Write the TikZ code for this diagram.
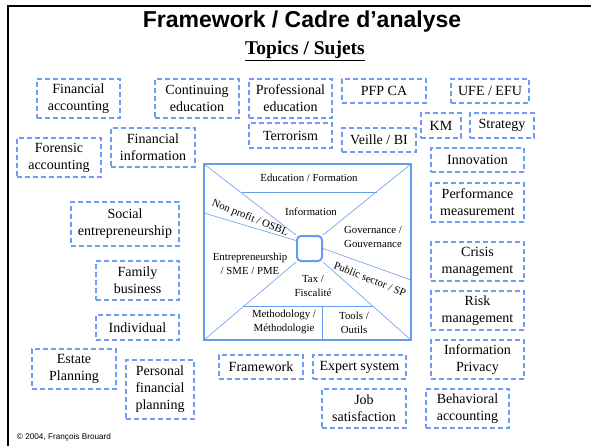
\documentclass[tikz,border=0pt]{standalone}
\usepackage{fontspec}
\setmainfont{Liberation Serif}
\setsansfont{Liberation Sans}
\definecolor{topicblue}{RGB}{110,155,245}
\definecolor{hubblue}{RGB}{105,155,235}
\tikzset{
  topic/.style={draw=topicblue, line width=1.2pt, dash pattern=on 5pt off 3pt, align=center,
    inner sep=0pt, font=\fontsize{14}{17}\selectfont},
  sector/.style={align=center, inner sep=0pt, font=\fontsize{10.8}{14}\selectfont},
  spoke/.style={hubblue, line width=0.6pt}
}
\begin{document}
\begin{tikzpicture}[x=1pt,y=-1pt]
\useasboundingbox (0,0) rectangle (591,445);
\draw [black, line width=2.5pt] (8,446) -- (8,6) -- (592,6);
\node (title) at (302,22) {\sffamily\bfseries\fontsize{23}{26}\selectfont Framework / Cadre d’analyse};
\node (subtitle) at (305,51) {\bfseries\fontsize{19.5}{22}\selectfont\underline{Topics / Sujets}};
% topics
\node [topic, minimum width=83pt, minimum height=39pt] (finacc) at (78.5,98.5) {Financial\\accounting};
\node [topic, minimum width=84pt, minimum height=39pt] (contedu) at (197,98.5) {Continuing\\education};
\node [topic, minimum width=83pt, minimum height=39pt] (profedu) at (290.5,98.5) {Professional\\education};
\node [topic, minimum width=84pt, minimum height=24pt] (pfpca) at (384,91) {PFP CA};
\node [topic, minimum width=78pt, minimum height=24pt] (ufe) at (490,91) {UFE / EFU};
\node [topic, minimum width=83pt, minimum height=25pt] (terror) at (290.5,135.5) {Terrorism};
\node [topic, minimum width=74pt, minimum height=24pt] (veille) at (379,140) {Veille / BI};
\node [topic, minimum width=40pt, minimum height=25pt] (km) at (441,125.5) {KM};
\node [topic, minimum width=64pt, minimum height=25pt] (strategy) at (502,125.5) {Strategy};
\node [topic, minimum width=84pt, minimum height=39pt] (fininfo) at (153,147.5) {Financial\\information};
\node [topic, minimum width=84pt, minimum height=39pt] (forensic) at (59,157.5) {Forensic\\accounting};
\node [topic, minimum width=93pt, minimum height=24pt] (innov) at (477.5,160) {Innovation};
\node [topic, minimum width=93pt, minimum height=39pt] (perf) at (477.5,202.5) {Performance\\measurement};
\node [topic, minimum width=108pt, minimum height=44pt] (social) at (125,224) {Social\\entrepreneurship};
\node [topic, minimum width=83pt, minimum height=39pt] (family) at (137.5,280.5) {Family\\business};
\node [topic, minimum width=83pt, minimum height=25pt] (individual) at (137.5,327.5) {Individual};
\node [topic, minimum width=84pt, minimum height=40pt] (estate) at (74,369) {Estate\\Planning};
\node [topic, minimum width=68pt, minimum height=59pt] (personal) at (160,389.5) {Personal\\financial\\planning};
\node [topic, minimum width=84pt, minimum height=24pt] (framework) at (261,367) {Framework};
\node [topic, minimum width=93pt, minimum height=24pt] (expert) at (359.5,367) {Expert system};
\node [topic, minimum width=93pt, minimum height=39pt] (crisis) at (477.5,261.5) {Crisis\\management};
\node [topic, minimum width=93pt, minimum height=39pt] (risk) at (477.5,310.5) {Risk\\management};
\node [topic, minimum width=93pt, minimum height=39pt] (privacy) at (477.5,359.5) {Information\\Privacy};
\node [topic, minimum width=84pt, minimum height=39pt] (job) at (364,408.5) {Job\\satisfaction};
\node [topic, minimum width=83pt, minimum height=39pt] (behav) at (467.5,408.5) {Behavioral\\accounting};
% framework
\coordinate (nw) at (204,164);
\coordinate (ne) at (411,164);
\coordinate (sw) at (204,340);
\coordinate (se) at (411,340);
\node [draw=hubblue, line width=2pt, rounded corners=4pt, minimum size=25pt, inner sep=0pt] (hub) at (309.5,248.5) {};
\draw [spoke] (nw) -- (hub.north west);
\draw [spoke] (ne) -- (hub.north east);
\draw [spoke] (sw) -- (hub.south west);
\draw [spoke] (se) -- (hub.south east);
\draw [spoke] (204,213) -- ([yshift=8pt]hub.west);
\draw [spoke] (hub.east) -- (411,280);
\draw [hubblue, line width=1pt] (242,192) -- (377,192);
\draw [hubblue, line width=1pt] (244,306) -- (373,306);
\draw [hubblue, line width=1pt] (322,306) -- (322,340);
\draw [hubblue, line width=2.5pt] (nw) rectangle (se);
\node [sector] (edu) at (309,178) {Education / Formation};
\node [sector] (info) at (311,212) {Information};
\node [sector] (gov) at (373,237) {Governance /\\Gouvernance};
\node [sector, rotate=-22] (osbl) at (250,218) {Non profit / OSBL};
\node [sector] (entre) at (250,264) {Entrepreneurship\\/ SME / PME};
\node [sector] (tax) at (313,286) {Tax /\\Fiscalité};
\node [sector, rotate=-22] (public) at (370,279) {Public sector / SP};
\node [sector] (method) at (284,322) {Methodology /\\Méthodologie};
\node [sector] (tools) at (354,323) {Tools /\\Outils};
\node (copy) at (64,437) {\sffamily\fontsize{8.2}{10}\selectfont © 2004, François Brouard};
\end{tikzpicture}
\end{document}
